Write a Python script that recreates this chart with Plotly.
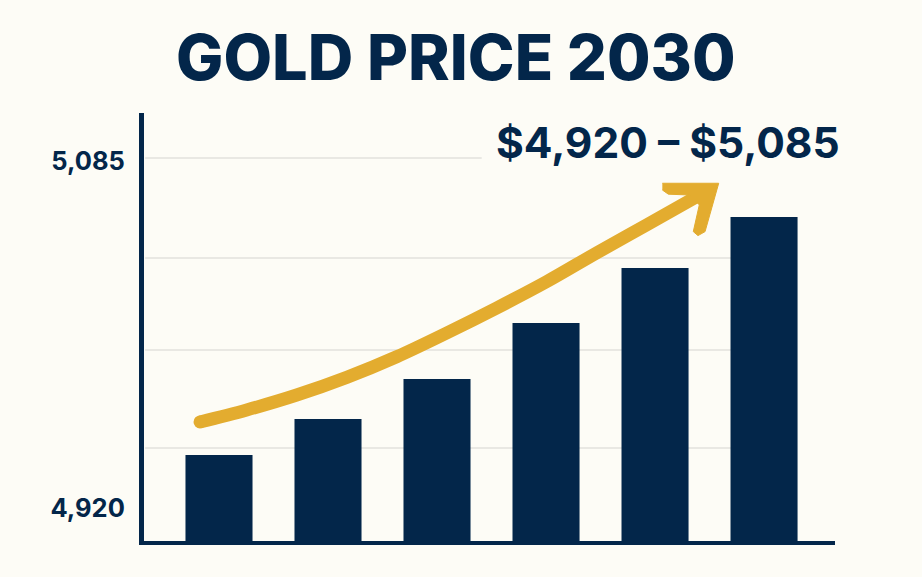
import plotly.graph_objects as go

# bars
bar_pos = [0, 1, 2, 3, 4, 5]
bar_values = [4945.2, 4962.3, 4981.3, 5008, 5034.1, 5058.4]

# axis ticks
tick_vals = [4920, 5085]
tick_text = ['4,920', '5,085']

# faint guide lines and how far each one runs
grid_vals = [5086.4, 5038.9, 4995.1, 4948.5]
grid_ends = [2.41, 4.7, 4.7, 4.7]

# gold trend arrow in axis units
trend_x = [-0.174, 0.254, 0.713, 1.172, 1.630, 2.089, 2.548, 3.006, 3.465, 3.924, 4.383]
trend_y = [4960.9, 4966.6, 4973.7, 4982.1, 4991.9, 5003.2, 5015.1, 5027.6, 5041.3, 5054.6, 5068.0]
head_x = [4.067, 4.584, 4.459, 4.394, 4.351, 4.406, 4.321, 4.122, 4.067]
head_y = [5074.4, 5074.4, 5051.4, 5049.5, 5051.4, 5064.1, 5068.8, 5069.2, 5071.2]

title_text = 'GOLD PRICE 2030'
range_text = '$4,920 – $5,085'

NAVY = '#03264a'
GOLD = '#e3ac2f'
BG = '#fdfcf6'
FONT = 'Inter'

x_min = -0.688
y_min = 4904.3

fig = go.Figure()

fig.add_trace(go.Bar(x=bar_pos, y=[v - y_min for v in bar_values], base=y_min,
                     width=0.615, marker=dict(color=NAVY, line=dict(width=0))))

# trend shaft, with a round start
fig.add_trace(go.Scatter(x=trend_x, y=trend_y, mode='lines',
                         line=dict(color=GOLD, width=13, shape='spline')))
fig.add_trace(go.Scatter(x=trend_x[:1], y=trend_y[:1], mode='markers',
                         marker=dict(color=GOLD, size=13)))
fig.add_trace(go.Scatter(x=head_x, y=head_y, mode='lines', fill='toself', fillcolor=GOLD,
                         line=dict(color=GOLD, width=1)))

for val, end in zip(grid_vals, grid_ends):
    fig.add_shape(type='line', x0=x_min + 0.01, x1=end, y0=val, y1=val, layer='below',
                  line=dict(color='#e9e8e3', width=2))

fig.add_annotation(text=title_text, xref='paper', yref='paper', x=(456 - 144) / 691, y=(541 - 57) / 428,
                   showarrow=False, xanchor='center', yanchor='middle',
                   font=dict(family=FONT, size=63, color=NAVY, weight=800))
fig.add_annotation(text=range_text, xref='paper', yref='paper', x=(668 - 144) / 691, y=(541 - 142) / 428,
                   showarrow=False, xanchor='center', yanchor='middle',
                   font=dict(family=FONT, size=42.5, color=NAVY, weight=700))

fig.update_layout(
    width=922, height=577, autosize=False,
    margin=dict(l=144, r=87, t=113, b=36),
    paper_bgcolor=BG, plot_bgcolor=BG,
    showlegend=False,
    xaxis=dict(range=[x_min, 5.651], showgrid=False, zeroline=False, showticklabels=False,
               ticks='', showline=True, linecolor=NAVY, linewidth=4),
    yaxis=dict(range=[y_min, 5107.8], showgrid=False, zeroline=False, tickmode='array',
               tickvals=tick_vals, ticktext=tick_text, ticks='', ticklabelstandoff=9,
               tickfont=dict(family=FONT, size=25.5, color=NAVY, weight=700),
               showline=True, linecolor=NAVY, linewidth=5),
)

# the page's default body margin would leave a white frame round the figure
fig.write_html('out.html', config=dict(displayModeBar=False),
               post_script="document.body.style.margin='0';")
